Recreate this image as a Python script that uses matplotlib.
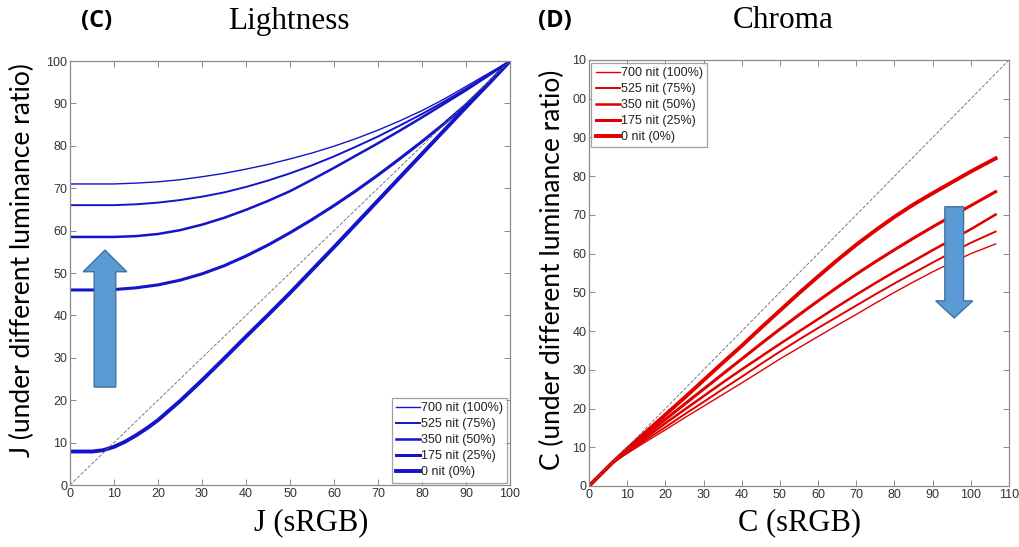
import matplotlib
matplotlib.use("Agg")
import matplotlib.pyplot as plt
from matplotlib.patches import FancyArrow

# Lightness panel data
j_srgb = [0, 5, 10, 15, 20, 25, 30, 35, 40, 45, 50, 55, 60, 65, 70, 75, 80, 85, 90, 95, 100]
j_700 = [71.0, 71.0, 71.0, 71.2, 71.5, 72.0, 72.7, 73.5, 74.5, 75.6, 76.9, 78.3, 79.9, 81.7, 83.7, 85.9, 88.3, 91.0, 94.0, 97.0, 100]
j_525 = [66.0, 66.0, 66.0, 66.2, 66.6, 67.2, 68.0, 69.0, 70.3, 71.8, 73.5, 75.4, 77.5, 79.8, 82.2, 84.8, 87.5, 90.4, 93.5, 96.7, 100]
j_350 = [58.5, 58.5, 58.5, 58.7, 59.2, 60.1, 61.4, 63.0, 64.9, 67.0, 69.3, 72.0, 74.8, 77.7, 80.6, 83.6, 86.7, 89.9, 93.1, 96.5, 100]
j_175 = [46.0, 46.0, 46.1, 46.5, 47.2, 48.3, 49.8, 51.7, 54.0, 56.6, 59.5, 62.6, 65.9, 69.4, 73.1, 77.0, 81.0, 85.2, 89.7, 94.7, 100]
j0_srgb = [0, 2.5, 5, 7.5, 10, 12.5, 15, 17.5, 20, 25, 30, 35, 40, 45, 50, 55, 60, 65, 70, 75, 80, 85, 90, 95, 100]
j_0 = [7.9, 7.9, 7.9, 8.2, 9.0, 10.2, 11.7, 13.4, 15.3, 19.8, 24.7, 29.8, 35.0, 40.1, 45.3, 50.7, 56.1, 61.6, 67.1, 72.6, 78.1, 83.6, 89.1, 94.5, 100]

# Chroma panel data
c_srgb = [0, 6, 10, 15, 20, 25, 30, 35, 40, 45, 50, 55, 60, 65, 70, 75, 80, 85, 90, 95, 100, 106.5]
c_700 = [0, 5.8, 8.4, 11.5, 14.5, 17.6, 20.6, 23.6, 26.6, 29.7, 32.8, 35.7, 38.6, 41.5, 44.3, 47.2, 50.0, 52.7, 55.3, 57.7, 60.0, 62.5]
c_525 = [0, 5.8, 8.7, 12.0, 15.2, 18.5, 21.7, 25.0, 28.2, 31.5, 34.7, 37.8, 40.8, 43.7, 46.6, 49.5, 52.3, 55.0, 57.7, 60.3, 62.8, 65.7]
c_350 = [0, 5.8, 9.0, 12.6, 16.2, 19.7, 23.2, 26.7, 30.1, 33.4, 36.7, 39.9, 43.1, 46.3, 49.4, 52.4, 55.3, 58.1, 60.9, 63.6, 66.3, 70.1]
c_175 = [0, 5.9, 9.3, 13.3, 17.2, 21.1, 25.0, 28.9, 32.8, 36.7, 40.5, 44.2, 47.8, 51.3, 54.7, 57.9, 61.0, 64.0, 66.9, 69.7, 72.4, 76.0]
c_0 = [0, 5.9, 9.6, 14.0, 18.4, 22.8, 27.3, 31.8, 36.2, 40.8, 45.3, 49.8, 54.1, 58.3, 62.3, 66.0, 69.5, 72.7, 75.6, 78.4, 81.2, 84.6]

labels = ["700 nit (100%)", "525 nit (75%)", "350 nit (50%)", "175 nit (25%)", "0 nit (0%)"]
widths = [1.0, 1.4, 1.8, 2.2, 2.8]

fig = plt.figure(figsize=(10.2, 5.47), dpi=100)
ax1 = fig.add_axes([70 / 1020, 1 - 485 / 547, 440 / 1020, 424 / 547])
ax2 = fig.add_axes([589 / 1020, 1 - 486 / 547, 420 / 1020, 426 / 547])

tick_font = "Liberation Sans"


def style_axes(ax):
    for s in ax.spines.values():
        s.set_color("#8a8a8a")
        s.set_linewidth(0.9)
    ax.tick_params(direction="in", length=4, width=0.7, color="#8a8a8a",
                   top=True, right=True, labelsize=9, labelcolor="#333333", pad=2)
    for lab in ax.get_xticklabels() + ax.get_yticklabels():
        lab.set_fontfamily(tick_font)


def add_legend(ax, loc):
    leg = ax.legend(loc=loc, handlelength=1.9, handletextpad=0.1,
                    labelspacing=0.32, borderpad=0.35, borderaxespad=0.2,
                    fancybox=False, prop={"family": tick_font, "size": 9})
    leg.get_frame().set_edgecolor("#8a8a8a")
    leg.get_frame().set_linewidth(0.9)
    for t in leg.get_texts():
        t.set_color("#222222")
    return leg


# Lightness
j_curves = [(j_srgb, j_700), (j_srgb, j_525), (j_srgb, j_350), (j_srgb, j_175), (j0_srgb, j_0)]
for (xs, ys), lw, lab in zip(j_curves, widths, labels):
    ax1.plot(xs, ys, color="#1414c8", lw=lw, label=lab)
ax1.plot([0, 100], [0, 100], ls="--", color="#666666", lw=0.6, dashes=(4, 2))
ax1.set_xlim(0, 100)
ax1.set_ylim(0, 100)
ax1.set_xticks(range(0, 101, 10))
ax1.set_yticks(range(0, 101, 10))
style_axes(ax1)
add_legend(ax1, "lower right")
ax1.add_patch(FancyArrow(7.95, 23.1, 0, 32.3, width=4.9, head_width=9.9, head_length=5.1,
                         length_includes_head=True, facecolor="#5b9bd5",
                         edgecolor="#41719c", lw=1, zorder=5))

# Chroma
for ys, lw, lab in zip([c_700, c_525, c_350, c_175, c_0], widths, labels):
    ax2.plot(c_srgb, ys, color="#e00000", lw=lw, label=lab)
ax2.plot([0, 110], [0, 110], ls="--", color="#666666", lw=0.6, dashes=(4, 2))
ax2.set_xlim(0, 110)
ax2.set_ylim(0, 110)
ax2.set_xticks(range(0, 111, 10))
ax2.set_yticks(range(0, 111, 10))
ax2.set_yticklabels([str(v) for v in range(0, 100, 10)] + ["00", "10"])
style_axes(ax2)
add_legend(ax2, "upper left")
ax2.add_patch(FancyArrow(95.65, 72.1, 0, -28.7, width=4.9, head_width=9.7, head_length=4.4,
                         length_includes_head=True, facecolor="#5b9bd5",
                         edgecolor="#41719c", lw=1, zorder=5))

# titles and labels
serif = "Liberation Serif"
fig.text(97 / 1020, 1 - 21 / 547, "(C)", fontsize=17, fontweight="bold", family="Open Sans",
         ha="center", va="center")
fig.text(289 / 1020, 1 - 21 / 547, "Lightness", fontsize=22.5, family=serif, ha="center", va="center")
fig.text(555 / 1020, 1 - 21 / 547, "(D)", fontsize=17, fontweight="bold", family="Open Sans",
         ha="center", va="center")
fig.text(783 / 1020, 1 - 21 / 547, "Chroma", fontsize=22.5, family=serif, ha="center", va="center")
fig.text(311 / 1020, 1 - 523 / 547, "J (sRGB)", fontsize=22, family=serif, ha="center", va="center")
fig.text(800 / 1020, 1 - 523 / 547, "C (sRGB)", fontsize=22, family=serif, ha="center", va="center")
fig.text(22 / 1020, 1 - 260 / 547, "J (under different luminance ratio)", fontsize=19,
         family="Lato", rotation=90, ha="center", va="center")
fig.text(552 / 1020, 1 - 270 / 547, "C (under different luminance ratio)", fontsize=19,
         family="Lato", rotation=90, ha="center", va="center")

fig.savefig("out.png", dpi=100)
